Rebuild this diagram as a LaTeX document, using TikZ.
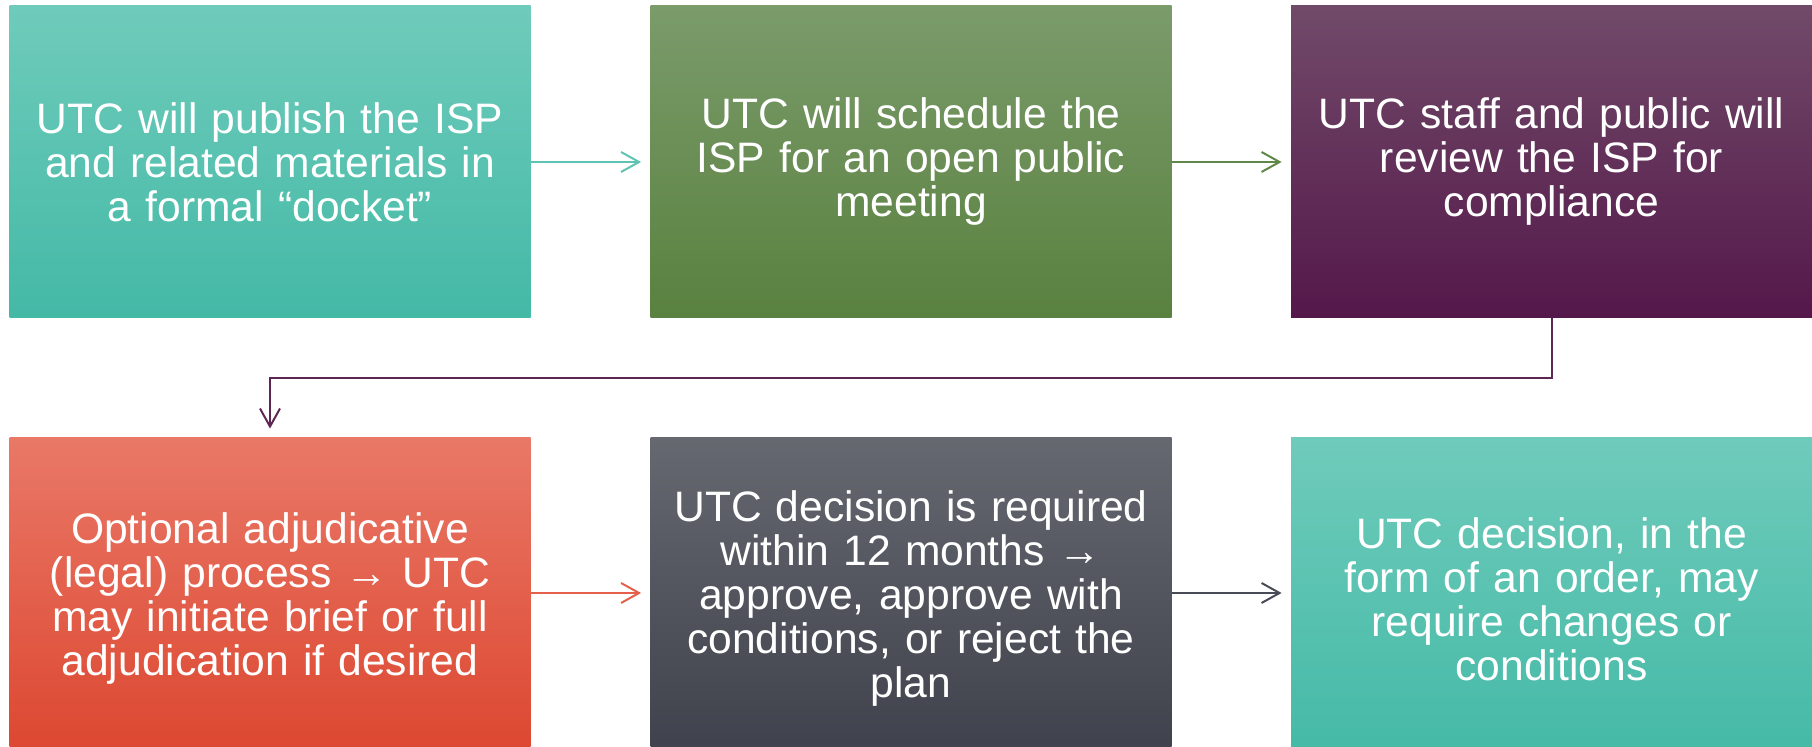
\documentclass[tikz,border=0pt]{standalone}
\usepackage{fontspec}
\setmainfont{Liberation Sans}
\usetikzlibrary{arrows.meta}
\definecolor{tealtop}{HTML}{6FCBBB}\definecolor{tealbot}{HTML}{44B9A6}
\definecolor{greentop}{HTML}{7B9B6B}\definecolor{greenbot}{HTML}{59813F}
\definecolor{purptop}{HTML}{714A69}\definecolor{purpbot}{HTML}{54184A}
\definecolor{redtop}{HTML}{E97867}\definecolor{redbot}{HTML}{DC462F}
\definecolor{greytop}{HTML}{65686F}\definecolor{greybot}{HTML}{3E414B}
\definecolor{tealarr}{HTML}{5EC3B2}\definecolor{greenarr}{HTML}{5E8748}
\definecolor{purparr}{HTML}{5E2653}\definecolor{redarr}{HTML}{E5604B}
\definecolor{greyarr}{HTML}{484B55}
\begin{document}
\begin{tikzpicture}[x=0.5pt,y=0.5pt,
    stepbox/.style={minimum width=260.5pt, minimum height=156pt, inner sep=0pt,
      text=white, align=center, text width=250pt,
      font=\fontsize{21.3}{22}\selectfont},
    lowbox/.style={stepbox, minimum height=161pt},
    conn/.style={line width=1pt, shorten >=4.5pt,
      -{Straight Barb[length=9pt,width=10pt,line width=1pt]}}]
      \useasboundingbox (0,0) rectangle (1812,747);
      % top row
      \node[stepbox, top color=tealtop, bottom color=tealbot] (publish) at (270,585)
        {UTC will publish the ISP\\and related materials in\\a formal “docket”};
      \node[stepbox, top color=greentop, bottom color=greenbot] (schedule) at (911,585)
        {UTC will schedule the\\ISP for an open public\\meeting};
      \node[stepbox, top color=purptop, bottom color=purpbot] (review) at (1551.5,585)
        {UTC staff and public will\\review the ISP for\\compliance};
      % bottom row, running off the page
      \node[lowbox, top color=redtop, bottom color=redbot] (adjud) at (270,148)
        {Optional adjudicative\\(legal) process → UTC\\may initiate brief or full\\adjudication if desired};
      \node[lowbox, top color=greytop, bottom color=greybot] (decide) at (911,148)
        {UTC decision is required\\within 12 months →\\approve, approve with\\conditions, or reject the\\plan};
      \node[lowbox, top color=tealtop, bottom color=tealbot] (order) at (1551.5,148)
        {UTC decision, in the\\form of an order, may\\require changes or\\conditions};
      \foreach \F/\T/\C/\S in{publish/schedule/tealarr/0pt, schedule/review/greenarr/0pt,
          adjud/decide/redarr/3pt, decide/order/greyarr/3pt}{
        \draw[conn, \C]([yshift=\S]\F.east)--([yshift=\S]\T.west);
      }
      \draw[conn, purparr](review.south)--++(0,-30pt)-|(adjud.north);
    \end{tikzpicture}
\end{document}
